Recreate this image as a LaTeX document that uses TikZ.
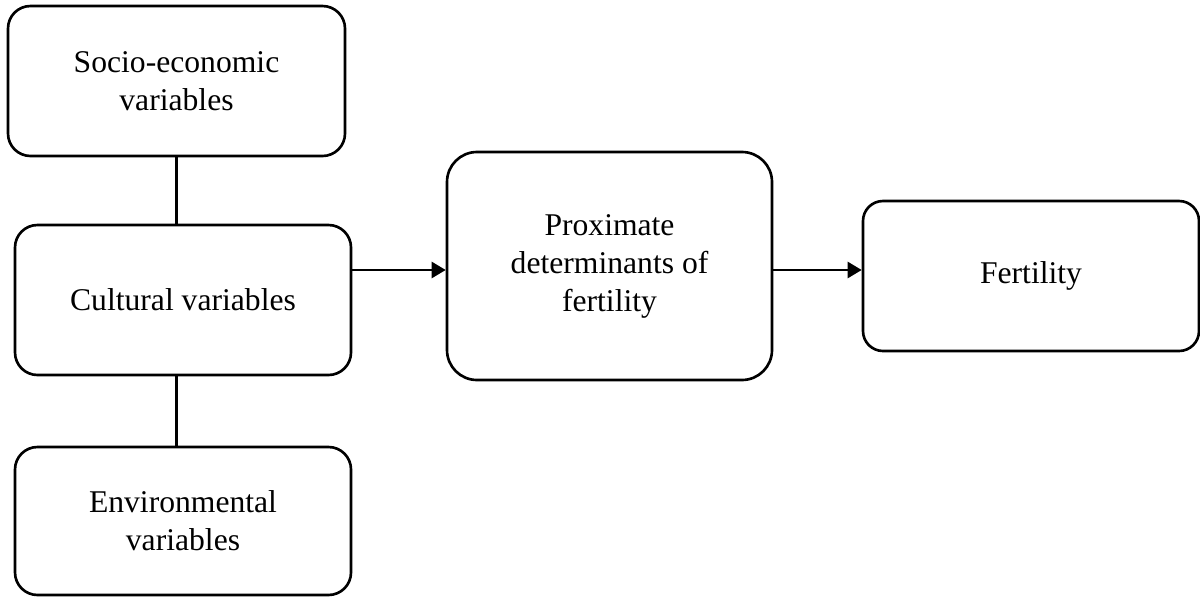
\documentclass[tikz,border=0pt]{standalone}
\usepackage{fontspec}
\setmainfont{Liberation Serif}
\usetikzlibrary{arrows.meta}

\tikzset{
    varbox/.style={rectangle, rounded corners=0.45cm, draw, line width=1.5pt, align=center,
        font=\fontsize{18}{21.6}\selectfont, minimum width=6.72cm, minimum height=3cm},
    >={Triangle[length=0.28cm, width=0.32cm]}
}

\begin{document}
\begin{tikzpicture}[line width=1.5pt]
    \useasboundingbox (0,0) rectangle (24,-11.92);

    % Boxes
    \node[varbox, minimum width=6.74cm] (SOCIO) at (3.53,-1.62) {Socio-economic\\variables};
    \node[varbox] (CULT) at (3.66,-6.0) {Cultural variables};
    \node[varbox, minimum height=2.96cm] (ENV) at (3.66,-10.42) {Environmental\\variables};
    \node[varbox, rounded corners=0.6cm, minimum width=6.5cm, minimum height=4.56cm] (PROX) at (12.19,-5.32) {Proximate\\determinants of\\fertility};
    \node[varbox, rounded corners=0.4cm] (FERT) at (20.62,-5.52) {Fertility};
    \coordinate (ROW) at (0,-5.4);

    % Links
    \draw (SOCIO.south) -- (SOCIO.south |- CULT.north);
    \draw (CULT.south -| SOCIO.south) -- (SOCIO.south |- ENV.north);
    \draw[->] (CULT.east |- ROW) -- (PROX.west |- ROW);
    \draw[->] (PROX.east |- ROW) -- (FERT.west |- ROW);
\end{tikzpicture}
\end{document}
